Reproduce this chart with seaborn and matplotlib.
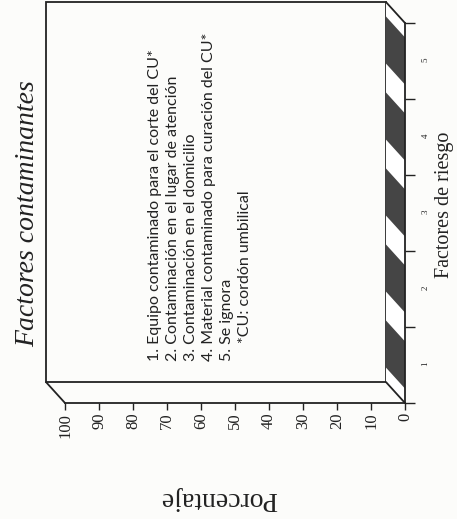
import matplotlib
matplotlib.use('Agg')
import matplotlib.pyplot as plt
from matplotlib.patches import Polygon
import pandas as pd
import seaborn as sns

# datos del grafico
factores = [1, 2, 3, 4, 5]
porcentaje = [0, 0, 0, 0, 0]
ticks_pct = [0, 10, 20, 30, 40, 50, 60, 70, 80, 90, 100]
leyenda = [
    "1. Equipo contaminado para el corte del CU*",
    "2. Contaminación en el lugar de atención",
    "3. Contaminación en el domicilio",
    "4. Material contaminado para curación del CU*",
    "5. Se ignora",
]
nota = "*CU: cordón umbilical"
titulo = "Factores contaminantes"
eje_x = "Factores de riesgo"
eje_y = "Porcentaje"

df = pd.DataFrame({'factor': factores, 'pct': porcentaje})

sns.set_style('white')
plt.rcParams['font.family'] = ['Liberation Serif', 'DejaVu Serif']

DARK = '#454545'
INK = '#222222'
PAPER = '#fcfcfa'
DV, DC = 5.6, 0.276      # profundidad 3D (valor, categoria)
BAR_W = 0.62
W, H = 457, 519

fig = plt.figure(figsize=(W / 100, H / 100), dpi=100, facecolor=PAPER)
ax = fig.add_axes([65 / W, 116 / H, 340 / W, 380 / H])
ax.set_facecolor('none')

sns.barplot(data=df, x='pct', y='factor', orient='h', native_scale=True,
            color=DARK, width=BAR_W, ax=ax)
ax.set_xlim(100, 0)
ax.set_ylim(0.5, 5.5)
lo, hi = ax.get_ylim()
vmax = max(ticks_pct)

# pared del fondo
ax.add_patch(Polygon([(DV, lo + DC), (vmax + DV, lo + DC), (vmax + DV, hi + DC), (DV, hi + DC)],
                     closed=True, fc='none', ec=INK, lw=1.3, clip_on=False, zorder=1))
# piso
ax.add_patch(Polygon([(0, lo), (0, hi), (DV, hi + DC), (DV, lo + DC)],
                     closed=True, fc='white', ec='none', clip_on=False, zorder=1))
# caras superiores de las barras (valor 0)
for f, p in zip(df.factor, df.pct):
    c0, c1 = f - BAR_W / 2, f + BAR_W / 2
    ax.add_patch(Polygon([(p, c0), (p, c1), (p + DV, c1 + DC), (p + DV, c0 + DC)],
                         closed=True, fc=DARK, ec='none', clip_on=False, zorder=2))
# aristas de profundidad
for v, c in [(0, lo), (0, hi), (vmax, lo)]:
    ax.plot([v, v + DV], [c, c + DC], color=INK, lw=1.3, clip_on=False, zorder=3)

for s in ['left', 'top']:
    ax.spines[s].set_visible(False)
for s in ['bottom', 'right']:
    ax.spines[s].set_color(INK)
    ax.spines[s].set_linewidth(1.3)

ax.set_xticks(ticks_pct)
ax.tick_params(axis='x', direction='out', length=5, width=1, labelrotation=90,
               labelsize=12, pad=2, colors=INK, bottom=True)
ax.yaxis.tick_right()
ax.set_yticks(factores)
ax.set_yticks([lo] + [f + 0.5 for f in factores], minor=True)
ax.tick_params(axis='y', which='major', length=0, pad=12, labelsize=6.5,
               labelrotation=90, colors=INK)
ax.tick_params(axis='y', which='minor', length=7, width=1, direction='out', colors=INK, right=True)
ax.set_xlabel('')
ax.set_ylabel('')

fig.text(28 / W, 1 - 214 / H, titulo, rotation=90, ha='center', va='center',
         fontsize=20, style='italic', color=INK)
fig.text(444 / W, 1 - 205 / H, eje_x, rotation=90, ha='center', va='center',
         fontsize=14.5, color=INK)
fig.text(219 / W, 1 - 499 / H, eje_y, rotation=180, ha='center', va='center',
         fontsize=20, color=INK)

for i, linea in enumerate(leyenda):
    fig.text((155 + 18 * i) / W, 1 - 361 / H, linea, rotation=90, ha='center', va='bottom',
             fontsize=11.5, family=['Lato', 'DejaVu Sans'], color=INK)
fig.text(245 / W, 1 - 343 / H, nota, rotation=90, ha='center', va='bottom',
         fontsize=11.5, family=['Lato', 'DejaVu Sans'], color=INK)

fig.savefig('out.png', dpi=100, facecolor=PAPER)
